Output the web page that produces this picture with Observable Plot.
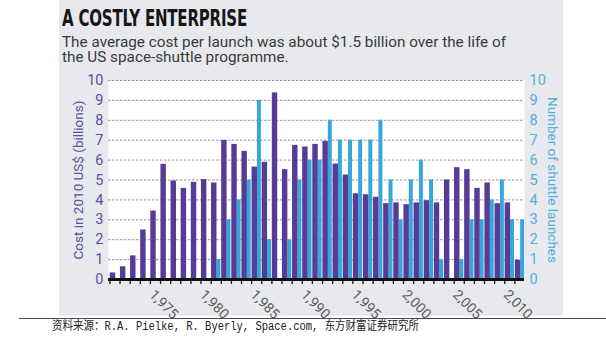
<!DOCTYPE html>
<html>
<head>
<meta charset="utf-8">
<script src="https://cdn.jsdelivr.net/npm/d3@7"></script>
<script src="https://cdn.jsdelivr.net/npm/@observablehq/plot@0.6"></script>
<style>
  html, body { margin: 0; padding: 0; background: #fff; }
  body { width: 606px; height: 338px; position: relative; overflow: hidden; }
  #panel { position: absolute; left: 59px; top: 0; width: 504px; height: 316px; background: #e7e9ee; }
  .fit { position: absolute; white-space: nowrap; transform-origin: 0 0; display: inline-block; }
  #title { left: 62px; top: 6.6px; font-family: "Liberation Sans Narrow", "DejaVu Sans Condensed", "DejaVu Sans"; font-weight: bold; font-size: 23px; line-height: 23px; color: #161616; letter-spacing: -0.3px; }
  .sub { left: 62px; font-family: Roboto, "Noto Sans", sans-serif; font-size: 14px; line-height: 15px; color: #3a3a3a; }
  #sub1 { top: 34.5px; }
  #sub2 { top: 49.5px; }
  #chart { position: absolute; left: 0; top: 70px; }
  #rule { position: absolute; left: 19px; top: 318px; width: 587px; height: 0; border-top: 1.5px solid #4a4a4a; }
  #caption { left: 52px; top: 320px; font-family: "Liberation Mono", "Noto Sans CJK SC", monospace; font-size: 12px; line-height: 14px; color: #222; }
</style>
</head>
<body>
<div id="panel"></div>
<div id="title" class="fit">A COSTLY ENTERPRISE</div>
<div id="sub1" class="fit sub">The average cost per launch was about $1.5 billion over the life of</div>
<div id="sub2" class="fit sub">the US space-shuttle programme.</div>
<div id="chart"></div>
<div id="rule"></div>
<div id="caption" class="fit">资料来源：R.A. Pielke, R. Byerly, Space.com, 东方财富证券研究所</div>
<script>
// ---- data ----
const years = [1971, 1972, 1973, 1974, 1975, 1976, 1977, 1978, 1979, 1980,
               1981, 1982, 1983, 1984, 1985, 1986, 1987, 1988, 1989, 1990,
               1991, 1992, 1993, 1994, 1995, 1996, 1997, 1998, 1999, 2000,
               2001, 2002, 2003, 2004, 2005, 2006, 2007, 2008, 2009, 2010, 2011];
// Cost in 2010 US$ (billions)
const cost = [0.33, 0.64, 1.19, 2.49, 3.44, 5.79, 4.95, 4.58, 4.88, 5.02,
              4.85, 6.99, 6.79, 6.44, 5.65, 5.89, 9.38, 5.52, 6.74, 6.66,
              6.79, 6.94, 5.80, 5.25, 4.31, 4.26, 4.13, 3.81, 3.85, 3.76,
              3.85, 3.96, 3.85, 5.00, 5.62, 5.52, 4.58, 4.85, 3.81, 3.85, 0.97];
// Number of shuttle launches
const launches = [0, 0, 0, 0, 0, 0, 0, 0, 0, 0,
                  1, 3, 4, 5, 9, 2, 0, 2, 5, 6,
                  6, 8, 7, 7, 7, 7, 8, 5, 3, 5,
                  6, 5, 1, 0, 1, 3, 3, 4, 5, 3, 3];
const yTicks = [0, 1, 2, 3, 4, 5, 6, 7, 8, 9, 10];
const xTickLabels = [1975, 1980, 1985, 1990, 1995, 2000, 2005, 2010];
const leftTitle = "Cost in 2010 US$ (billions)";
const rightTitle = "Number of shuttle launches";

const table = years.map((year, i) => ({year, cost: cost[i], launches: launches[i]}));

const purple = "#573b96";
const cyan = "#35a7da";
const purpleText = "#5a4f9e";
const cyanText = "#4fb0dd";

const chart = Plot.plot({
  width: 606,
  height: 250,
  marginLeft: 108,
  marginRight: 82,
  marginTop: 10,
  marginBottom: 41,
  style: {fontFamily: "Roboto, 'Noto Sans', sans-serif", background: "none", overflow: "visible"},
  x: {type: "linear", domain: [1970.86, 2011.95], axis: null},
  y: {domain: [0, 10], axis: null},
  marks: [
    Plot.frame({fill: "white", stroke: null}),
    Plot.ruleY(yTicks.filter(v => v > 0), {stroke: "#8c8c8c", strokeWidth: 0.9, strokeDasharray: "2.5,1.5"}),
    Plot.rectY(table.filter(d => d.launches > 0), {x: "year", interval: 1, y: "launches", fill: cyan, insetLeft: 5.8, insetRight: 0.4}),
    Plot.rectY(table, {x: "year", interval: 1, y: "cost", fill: purple, insetLeft: 0.4, insetRight: 4.3}),
    Plot.ruleY([0], {stroke: "#111", strokeWidth: 3}),
    Plot.axisX({ticks: years, tickSize: 5, stroke: "#111", strokeWidth: 1.3, tickFormat: () => "", label: null}),
    Plot.text(xTickLabels, {
      x: d => d, frameAnchor: "bottom", rotate: 45, textAnchor: "start", lineAnchor: "top",
      dx: 5, dy: 9, fill: "#5c5c5c", fontSize: 14
    }),
    Plot.axisY({anchor: "left", ticks: yTicks, tickSize: 0, tickPadding: 5, fill: purpleText, fontSize: 14.5, label: null}),
    Plot.axisY({anchor: "right", ticks: yTicks, tickSize: 0, tickPadding: 5, fill: cyanText, fontSize: 14.5, label: null}),
    Plot.text([leftTitle], {frameAnchor: "left", textAnchor: "middle", rotate: -90, dx: -30, fill: purpleText, fontSize: 13.5}),
    Plot.text([rightTitle], {frameAnchor: "right", textAnchor: "middle", rotate: 90, dx: 28, fill: cyanText, fontSize: 13.5})
  ]
});
document.getElementById("chart").appendChild(chart);

function fit(id, w) {
  const el = document.getElementById(id);
  el.style.transform = "none";
  const r = el.getBoundingClientRect().width;
  el.style.transform = `scaleX(${w / r})`;
  return w / r;
}
function fitAll() {
  fit("title", 185);
  const s = fit("sub1", 444);
  document.getElementById("sub2").style.transform = `scaleX(${s})`;
  fit("caption", 367);
}
fitAll();
if (document.fonts && document.fonts.ready) document.fonts.ready.then(fitAll);
</script>
</body>
</html>
